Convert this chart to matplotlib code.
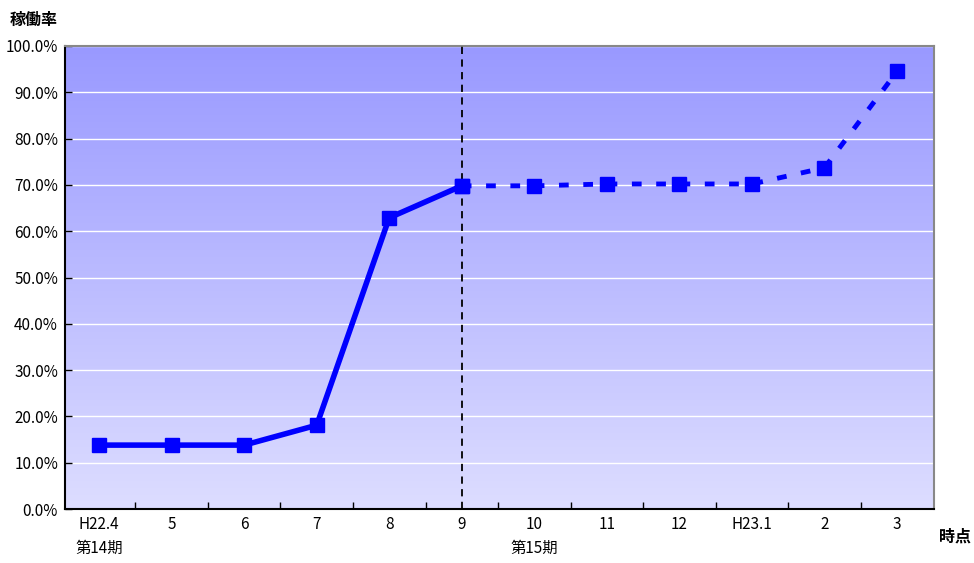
import numpy as np
import matplotlib.pyplot as plt
from matplotlib.ticker import MultipleLocator, FixedLocator

plt.rcParams['font.family'] = ['Noto Sans CJK JP', 'DejaVu Sans']

# 稼働率の推移 (第14期〜第15期)
months = ["H22.4", "5", "6", "7", "8", "9", "10", "11", "12", "H23.1", "2", "3"]
rate = [13.8, 13.8, 13.8, 18.1, 62.9, 69.8, 69.8, 70.2, 70.2, 70.2, 73.7, 94.5]
actual_end = 5          # 実績は "9" まで、以降は見込み
periods = [(0, "第14期"), (6, "第15期")]

fig = plt.figure(figsize=(9.74, 5.63), dpi=100)
ax = fig.add_axes([65 / 974, 54 / 563, 869 / 974, 463 / 563])

x = np.arange(len(months))
x0, x1 = -0.47, 11.51

# background gradient
grad = np.linspace(0, 1, 256).reshape(-1, 1)
top = np.array([0x99, 0x99, 0xFF]) / 255
bot = np.array([0xDD, 0xDD, 0xFF]) / 255
img = bot + (top - bot) * grad
ax.imshow(img[:, None, :].repeat(2, axis=1), extent=[x0, x1, 0, 100],
          origin="lower", aspect="auto", zorder=0)

ax.set_xlim(x0, x1)
ax.set_ylim(0, 100)
ax.yaxis.set_major_locator(MultipleLocator(10))
ax.yaxis.set_major_formatter(lambda v, p: f"{v:.1f}%")
ax.grid(axis="y", color="white", lw=1, zorder=1)

ax.set_xticks(x)
ax.set_xticklabels(months)
ax.xaxis.set_minor_locator(FixedLocator(np.arange(0.5, 11, 1)))
ax.tick_params(axis="x", which="major", length=0, pad=5, labelsize=11)
ax.tick_params(axis="x", which="minor", direction="in", length=5, width=1)
ax.tick_params(axis="y", direction="in", length=5, width=1, labelsize=11, pad=5)

for s in ("left", "bottom"):
    ax.spines[s].set_color("black")
    ax.spines[s].set_linewidth(1.5)
for s in ("top", "right"):
    ax.spines[s].set_color("#888888")
    ax.spines[s].set_linewidth(1.5)

# 実績 (solid) and 見込み (dashed)
ax.plot(x[:actual_end + 1], rate[:actual_end + 1], color="#0000FF", lw=4,
        marker="s", ms=10.5, zorder=4, clip_on=False)
ax.plot(x[actual_end:], rate[actual_end:], color="#0000FF", lw=3.5,
        ls=(0, (2, 3)), marker="s", ms=10.5, zorder=4, clip_on=False)

ax.axvline(actual_end, color="black", lw=1.3, ls=(0, (4, 3)), zorder=3)

for i, name in periods:
    ax.text(i, -8.4, name, ha="center", va="center", fontsize=11)

fig.text(10 / 974, 1 - 20 / 563, "稼働率", fontsize=11.5, fontweight="bold",
         va="center", ha="left")
fig.text(955 / 974, 1 - 537 / 563, "時点", fontsize=11.5, fontweight="bold",
         va="center", ha="center")

fig.savefig("out.png", dpi=100)
